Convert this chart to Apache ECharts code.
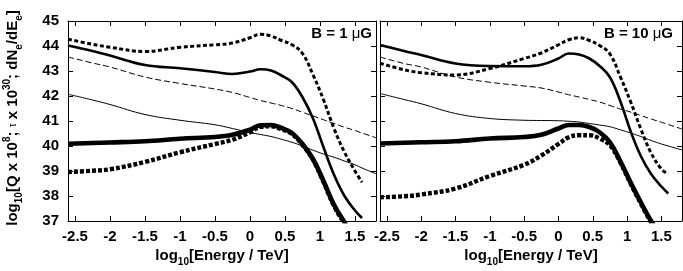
<!DOCTYPE html>
<html><head><meta charset="utf-8">
<script src="https://cdn.jsdelivr.net/npm/echarts@6/dist/echarts.min.js"></script>
<style>html,body{margin:0;padding:0;background:#fff}#c{width:683px;height:271px}</style>
</head><body><div id="c"></div>
<script>
// ---- data ----
const energy = [-2.6, -2.25, -2, -1.5, -1, -0.5, -0.25, 0, 0.15, 0.3, 0.45, 0.6, 0.75, 0.9, 1.05, 1.2, 1.35, 1.5, 1.6, 1.8];
const xTicks = [-2.5, -2, -1.5, -1, -0.5, 0, 0.5, 1, 1.5];
const yTicks = [37, 38, 39, 40, 41, 42, 43, 44, 45];
const panelLabels = ['B = 1 ', 'B = 10 '];

// B = 1 uG
const L_thickDash  = [44.27, 44.07, 43.95, 43.78, 43.95, 44.05, 44.12, 44.33, 44.47, 44.4, 44.22, 44.05, 43.7, 42.85, 41.85, 40.7, 39.75, 39.0, 38.55, null];
const L_thickSolid = [44.02, 43.8, 43.62, 43.24, 43.11, 42.96, 42.88, 42.98, 43.07, 43.02, 42.82, 42.55, 41.95, 41.1, 39.95, 38.85, 38.0, 37.42, 37.12, null];
const L_thinDash   = [43.56, 43.32, 43.16, 42.76, 42.5, 42.28, 42.14, 41.94, 41.82, 41.72, 41.62, 41.5, 41.35, 41.2, 41.05, 40.9, 40.75, 40.62, 40.52, 40.33];
const L_thinSolid  = [42.07, 41.84, 41.66, 41.26, 41.03, 40.85, 40.7, 40.54, 40.46, 40.38, 40.27, 40.15, 40.0, 39.83, 39.68, 39.55, 39.4, 39.25, 39.12, 38.89];
const L_heavySolid = [40.09, 40.12, 40.14, 40.19, 40.29, 40.36, 40.45, 40.65, 40.83, 40.84, 40.72, 40.52, 40.08, 39.48, 38.6, 37.65, 36.95, 36.3, null, null];
const L_heavyDash  = [38.96, 39.01, 39.07, 39.36, 39.75, 40.08, 40.25, 40.55, 40.77, 40.79, 40.67, 40.48, 40.04, 39.45, 38.56, 37.6, 36.9, 36.3, null, null];

// B = 10 uG
const R_thickDash  = [43.31, 43.05, 42.93, 42.84, 43.1, 43.5, 43.72, 44.05, 44.25, 44.33, 44.22, 44.02, 43.68, 42.78, 41.78, 40.68, 39.72, 39.08, 38.87, null];
const R_thickSolid = [44.04, 43.8, 43.64, 43.3, 43.2, 43.19, 43.25, 43.5, 43.7, 43.66, 43.5, 43.2, 42.75, 41.8, 40.6, 39.6, 38.88, 38.38, 38.1, null];
const R_thinDash   = [43.56, 43.3, 43.16, 42.76, 42.55, 42.4, 42.32, 42.16, 42.05, 41.96, 41.86, 41.76, 41.62, 41.48, 41.36, 41.22, 41.08, 40.95, 40.86, 40.68];
const R_thinSolid  = [42.1, 41.86, 41.69, 41.3, 41.1, 41.03, 41.02, 41.01, 40.99, 40.96, 40.9, 40.84, 40.77, 40.65, 40.52, 40.38, 40.22, 40.08, 40.0, 39.84];
const R_heavySolid = [40.1, 40.13, 40.15, 40.19, 40.3, 40.36, 40.45, 40.7, 40.84, 40.84, 40.76, 40.55, 40.15, 39.4, 38.55, 37.75, 37.0, 36.4, null, null];
const R_heavyDash  = [37.95, 37.99, 38.06, 38.3, 38.8, 39.25, 39.62, 40.08, 40.35, 40.43, 40.43, 40.3, 40.03, 39.35, 38.5, 37.7, 36.95, 36.35, null, null];

// ---- chart ----
const font = '"Liberation Sans", Arial, Helvetica, sans-serif';
const grids = [
  {left: 68, top: 21, width: 308, height: 200},
  {left: 380, top: 21, width: 302, height: 200}
];
function pairs(vals) {
  const out = [];
  vals.forEach((v, i) => { if (v !== null) out.push([energy[i], v]); });
  return out;
}
const styles = {
  thickDash:  {width: 3, type: [4, 2.5]},
  thickSolid: {width: 2.6, type: 'solid'},
  thinDash:   {width: 1, type: [6, 3]},
  thinSolid:  {width: 1, type: 'solid'},
  heavySolid: {width: 4.6, type: 'solid'},
  heavyDash:  {width: 4.4, type: [4, 2]}
};
const panels = [
  {thickDash: L_thickDash, thickSolid: L_thickSolid, thinDash: L_thinDash, thinSolid: L_thinSolid, heavySolid: L_heavySolid, heavyDash: L_heavyDash},
  {thickDash: R_thickDash, thickSolid: R_thickSolid, thinDash: R_thinDash, thinSolid: R_thinSolid, heavySolid: R_heavySolid, heavyDash: R_heavyDash}
];
const xAxis = [], yAxis = [], series = [];
grids.forEach((g, gi) => {
  ['bottom', 'top'].forEach(pos => {
    xAxis.push({
      gridIndex: gi, type: 'value', min: -2.6, max: 1.8, position: pos,
      axisLine: {show: true, onZero: false, lineStyle: {color: '#000', width: 1}},
      axisTick: {show: true, inside: true, length: 5, customValues: xTicks, lineStyle: {color: '#000', width: 1}},
      axisLabel: {show: pos === 'bottom', customValues: xTicks, color: '#000', fontSize: 15, fontWeight: 'bold', fontFamily: font, margin: 8},
      splitLine: {show: false}
    });
  });
  ['left', 'right'].forEach(pos => {
    yAxis.push({
      gridIndex: gi, type: 'value', min: 37, max: 45, interval: 1, position: pos,
      axisLine: {show: true, onZero: false, lineStyle: {color: '#000', width: 1}},
      axisTick: {show: true, inside: true, length: 5, lineStyle: {color: '#000', width: 1}},
      axisLabel: {show: gi === 0 && pos === 'left', color: '#000', fontSize: 15, fontWeight: 'bold', fontFamily: font, margin: 9},
      splitLine: {show: false}
    });
  });
  const p = panels[gi];
  ['thinDash', 'thinSolid', 'thickDash', 'thickSolid', 'heavyDash', 'heavySolid'].forEach(k => {
    series.push({
      type: 'line', xAxisIndex: gi * 2, yAxisIndex: gi * 2,
      data: pairs(p[k]), showSymbol: false, smooth: 0.4,
      clip: true, silent: true, animation: false,
      lineStyle: {color: '#000', width: styles[k].width, type: styles[k].type, cap: 'butt', join: 'round'}
    });
  });
});

const titleRich = {
  m: {fontSize: 15, fontWeight: 'bold', fontFamily: font, lineHeight: 22, fill: '#000'},
  sub: {fontSize: 10, fontWeight: 'bold', fontFamily: font, lineHeight: 10, verticalAlign: 'bottom'},
  sup: {fontSize: 10, fontWeight: 'bold', fontFamily: font, lineHeight: 14, verticalAlign: 'top'},
  tau: {fontSize: 10, fontWeight: 'normal', fontFamily: font, lineHeight: 16},
  mu: {fontSize: 15, fontWeight: 'normal', fontFamily: font, lineHeight: 22}
};
function txt(x, y, text, rot, align) {
  return {type: 'text', x: x, y: y, rotation: rot || 0, silent: true,
    style: {text: text, rich: titleRich, fontSize: 15, fontWeight: 'bold', fontFamily: font,
      fill: '#000', align: align || 'center', verticalAlign: 'middle'}};
}
const xTitle = '{m|log}{sub|10}{m|[Energy / TeV]}';
const yTitle = '{m|log}{sub|10}{m|[Q x 10}{sup|8}{m|; }{tau|τ}{m| x 10}{sup|30}{m|; dN}{sub|e}{m|/dE}{sub|e}{m|]}';

const chart = echarts.init(document.getElementById('c'), null, {renderer: 'canvas'});
chart.setOption({
  animation: false,
  backgroundColor: '#fff',
  grid: grids.map(g => Object.assign({containLabel: false}, g)),
  xAxis: xAxis, yAxis: yAxis, series: series,
  graphic: [
    txt(222, 256, xTitle),
    txt(531, 256, xTitle),
    txt(13, 118, yTitle, Math.PI / 2),
    txt(372, 34, '{m|' + panelLabels[0] + '}{mu|μ}{m|G}', 0, 'right'),
    txt(673, 34, '{m|' + panelLabels[1] + '}{mu|μ}{m|G}', 0, 'right')
  ]
});
</script></body></html>
